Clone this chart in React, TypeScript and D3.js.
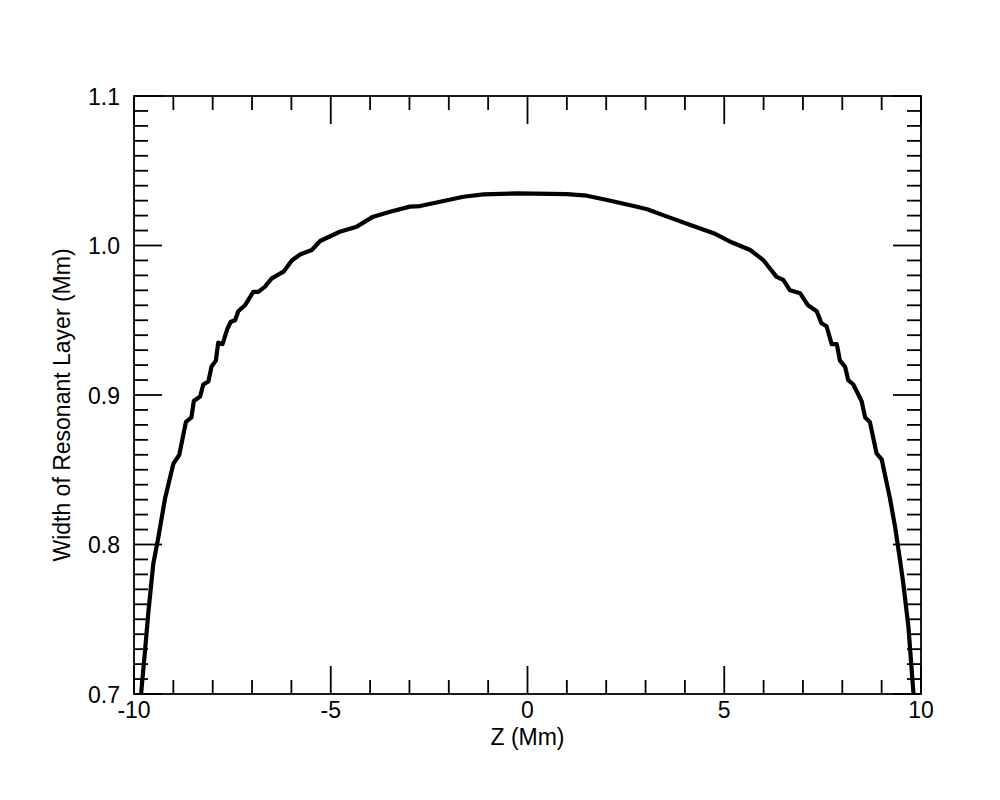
import React from "react";
import * as d3 from "d3";

const zValues: number[] = [
  -9.9, -9.82, -9.72, -9.63, -9.51, -9.38, -9.21, -9.0, -8.85, -8.68, -8.54, -8.48, -8.32, -8.24, -8.11,
  -8.03, -7.92, -7.86, -7.75, -7.63, -7.54, -7.43, -7.35, -7.18, -6.97, -6.84, -6.67, -6.5, -6.2,
  -5.99, -5.78, -5.48, -5.27, -4.77, -4.34, -3.92, -3.49, -2.99, -2.73, -2.22, -1.63, -1.12, -0.27,
  1.0, 1.51, 2.02, 2.7, 3.04, 3.55, 4.14, 4.73, 5.2, 5.66, 6.0, 6.33, 6.5, 6.67, 6.93, 7.13, 7.35,
  7.47, 7.6, 7.73, 7.86, 7.94, 8.07, 8.15, 8.28, 8.49, 8.58, 8.7, 8.87, 9.0, 9.21, 9.34, 9.47, 9.55,
  9.68, 9.81, 9.9,
];
const widthValues: number[] = [
  0.65, 0.7, 0.729, 0.756, 0.787, 0.805, 0.831, 0.854, 0.86, 0.882, 0.885, 0.896, 0.899, 0.907, 0.909,
  0.919, 0.923, 0.935, 0.934, 0.944, 0.949, 0.95, 0.956, 0.96, 0.969, 0.969, 0.9725, 0.978, 0.9825,
  0.99, 0.994, 0.997, 1.003, 1.0092, 1.0126, 1.0193, 1.0226, 1.026, 1.0264, 1.0293, 1.0326, 1.0342, 1.0349,
  1.0344, 1.0333, 1.0304, 1.0264, 1.0242, 1.0193, 1.0137, 1.0082, 1.002, 0.997, 0.99, 0.979, 0.977,
  0.97, 0.968, 0.96, 0.956, 0.948, 0.946, 0.934, 0.934, 0.923, 0.919, 0.91, 0.907, 0.896, 0.885, 0.882,
  0.861, 0.857, 0.831, 0.812, 0.789, 0.774, 0.745, 0.7, 0.65,
];

const xMajorTicks = [-10, -5, 0, 5, 10];
const xTickLabels = ["-10", "-5", "0", "5", "10"];
const yMajorTicks = [0.7, 0.8, 0.9, 1.0, 1.1];
const yTickLabels = ["0.7", "0.8", "0.9", "1.0", "1.1"];
const xTitle = "Z (Mm)";
const yTitle = "Width of Resonant Layer (Mm)";

export default function App() {
  const W = 1000, H = 800;
  const left = 134, right = 921, top = 96, bottom = 694;
  const x = d3.scaleLinear().domain([-10, 10]).range([left, right]);
  const y = d3.scaleLinear().domain([0.7, 1.1]).range([bottom, top]);

  const xMinor = d3.range(-10, 10.001, 1).filter((v) => !xMajorTicks.some((m) => Math.abs(m - v) < 1e-6));
  const yMinor = d3.range(70, 110.001, 1).map((v) => v / 100).filter((v) => !yMajorTicks.some((m) => Math.abs(m - v) < 1e-6));

  const pts = zValues.map((z, i) => [z, widthValues[i]] as [number, number]);
  const line = d3.line<[number, number]>().x((d) => x(d[0])).y((d) => y(d[1]));

  const minorLen = 14, majorLen = 28;
  const font = "'Liberation Sans', Arial, Helvetica, sans-serif";

  return (
    <svg width={W} height={H} style={{ position: "absolute", left: 0, top: 0, background: "#fff" }}>
      <defs>
        <clipPath id="plotclip">
          <rect x={left} y={top} width={right - left} height={bottom - top} />
        </clipPath>
      </defs>
      <rect x={0} y={0} width={W} height={H} fill="#fff" />
      <path d={line(pts) || ""} fill="none" stroke="#000" strokeWidth={4.2} strokeLinejoin="round" clipPath="url(#plotclip)" />
      <g stroke="#000" strokeWidth={1.8}>
        {xMinor.map((v) => (
          <g key={"xm" + v}>
            <line x1={x(v)} x2={x(v)} y1={bottom} y2={bottom - minorLen} />
            <line x1={x(v)} x2={x(v)} y1={top} y2={top + minorLen} />
          </g>
        ))}
        {xMajorTicks.map((v) => (
          <g key={"xM" + v}>
            <line x1={x(v)} x2={x(v)} y1={bottom} y2={bottom - majorLen} />
            <line x1={x(v)} x2={x(v)} y1={top} y2={top + majorLen} />
          </g>
        ))}
        {yMinor.map((v) => (
          <g key={"ym" + v}>
            <line x1={left} x2={left + minorLen} y1={y(v)} y2={y(v)} />
            <line x1={right} x2={right - minorLen} y1={y(v)} y2={y(v)} />
          </g>
        ))}
        {yMajorTicks.map((v) => (
          <g key={"yM" + v}>
            <line x1={left} x2={left + majorLen} y1={y(v)} y2={y(v)} />
            <line x1={right} x2={right - majorLen} y1={y(v)} y2={y(v)} />
          </g>
        ))}
        <rect x={left} y={top} width={right - left} height={bottom - top} fill="none" />
      </g>
      <g fontFamily={font} fontSize={23} fill="#000">
        {xMajorTicks.map((v, i) => (
          <text key={"xl" + v} x={x(v)} y={bottom + 24} textAnchor="middle">{xTickLabels[i]}</text>
        ))}
        {yMajorTicks.map((v, i) => (
          <text key={"yl" + v} x={left - 14} y={y(v) + 8.5} textAnchor="end">{yTickLabels[i]}</text>
        ))}
        <text x={(left + right) / 2} y={bottom + 51} textAnchor="middle">{xTitle}</text>
        <text transform={`translate(${70},${405}) rotate(-90)`} textAnchor="middle">{yTitle}</text>
      </g>
    </svg>
  );
}
